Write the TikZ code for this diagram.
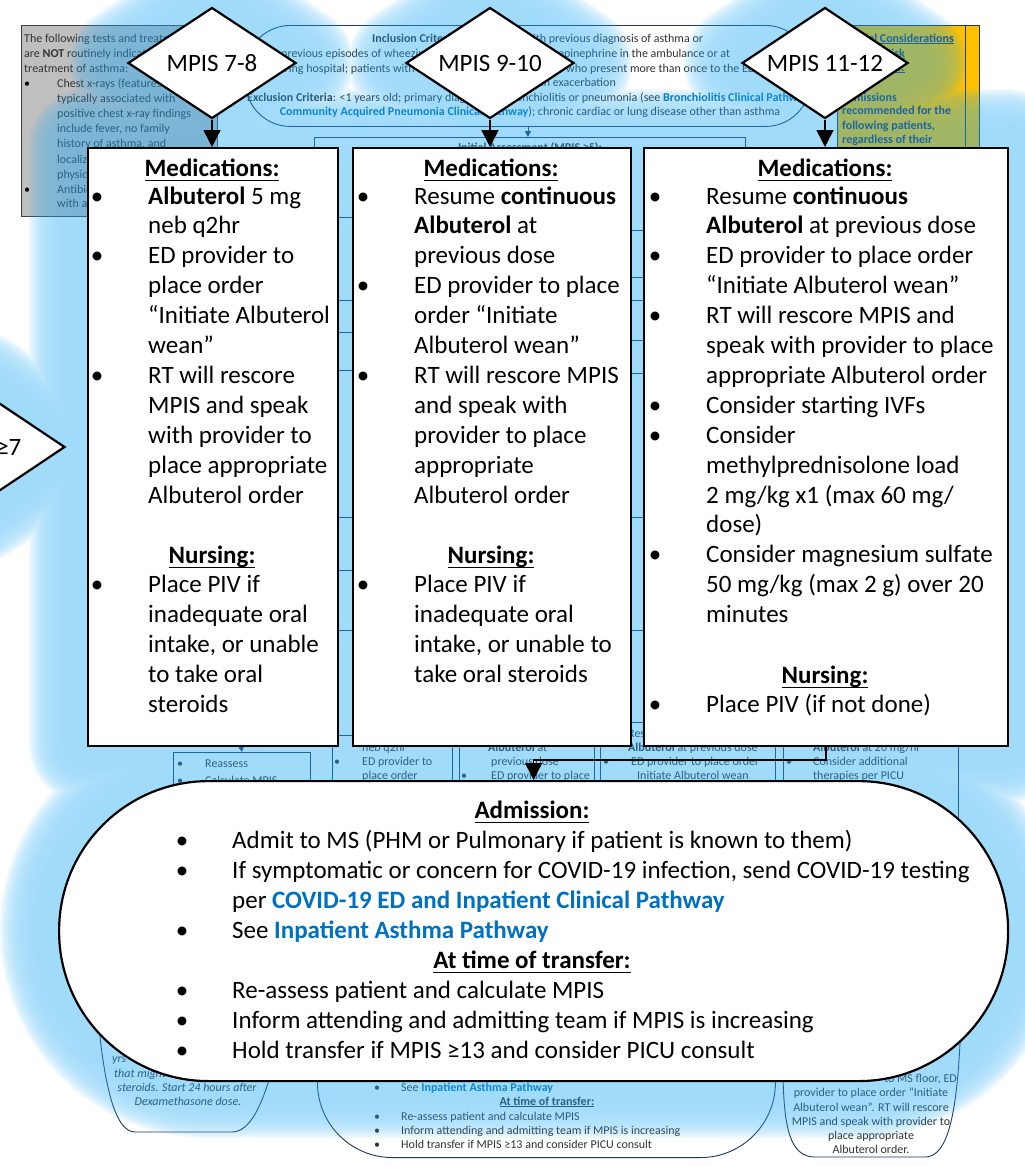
\documentclass[tikz,border=0pt]{standalone}
\usepackage{fontspec}
\setmainfont{Carlito}
\usetikzlibrary{arrows.meta,shapes.geometric}

\definecolor{glowc}{RGB}{29,169,245}
\definecolor{linkc}{RGB}{0,112,192}
\definecolor{bgline}{RGB}{31,56,100}
\definecolor{bgtext}{RGB}{50,50,50}
\definecolor{graybox}{RGB}{191,191,191}
\definecolor{amber}{RGB}{255,192,0}
\definecolor{navy}{RGB}{31,56,100}

\newcommand\bigfont{\fontsize{25}{30}\selectfont}
\newcommand\smfont{\fontsize{12}{14}\selectfont}
\newcommand\lnk[1]{\textcolor{linkc}{\textbf{#1}}}
\newcommand\uline[3]{\setbox0\hbox{#3}\rlap{\rule[-#1]{\wd0}{#2}}\box0}

\tikzset{
  fg/.style={draw=black, line width=2.2pt, fill=white, inner sep=0pt},
  dia/.style={fg, diamond, minimum width=#1},
  bigt/.style={font=\bigfont, inner sep=0pt, anchor=base west},
  bigh/.style={font=\bigfont, inner sep=0pt, anchor=base},
  smt/.style={font=\smfont, inner sep=0pt, anchor=base west, text=bgtext},
  sme/.style={smt, anchor=base east},
  smc/.style={smt, anchor=base},
  bgbox/.style={draw=bgline, line width=0.9pt, fill=white, inner sep=0pt, anchor=north west},
  bgl/.style={draw=bgline, line width=0.9pt},
  bgarrow/.style={draw=bgline, line width=0.9pt, -{Triangle[width=6pt,length=6pt]}},
  conn/.style={draw=black, line width=1.5pt, -{Triangle[width=17pt,length=17pt]}},
  glowpath/.style={insert path={
    (212,7) -- (296,63) -- (212,118) -- (128,63) -- cycle
    (490,7) -- (574,63) -- (490,118) -- (406,63) -- cycle
    (825,7) -- (908,63) -- (825,118) -- (742,63) -- cycle
    (-20,390) -- (65,447) -- (-20,504) -- (-105,447) -- cycle
    (87,147) rectangle (337,745)
    (352,147) rectangle (630,745)
    (643,147) rectangle (1007,745)
    [rounded corners=149.5pt] (58,780) rectangle (1007,1080)}},
}

\begin{document}
\begin{tikzpicture}[x=1pt,y=-1pt]
\useasboundingbox (0,0) rectangle (1025,1167);
\fill[white] (0,0) rectangle (1025,1167);
\clip (0,0) rectangle (1025,1167);

% ---------- underlying pathway page ----------
% tests not indicated
\node[bgbox, draw=black!75, fill=graybox, minimum width=196pt, minimum height=191pt] (nb) at (21,25) {};
\foreach \y/\x/\t [count=\i] in {42/24/{The following tests and treatments},
  57/24/{are \textbf{NOT} routinely indicated in the},
  72/24/{treatment of asthma:},
  87/57/{Chest x-rays (features},
  102/57/{typically associated with},
  117/57/{positive chest x-ray findings},
  132/57/{include fever, no family},
  147/57/{history of asthma, and},
  163/57/{localized findings on},
  178/57/{physical exam)},
  193/57/{Antibiotics (unless},
  207/57/{with a bacterial infection)}}
  \node[smt, text=black!80] (nbt\i) at (\x,\y) {\t};
\node[smc, text=black] (nbd1) at (27,87) {•};
\node[smc, text=black] (nbd2) at (27,193) {•};

% inclusion / exclusion criteria
\node[bgbox, rounded corners=45pt, minimum width=565pt, minimum height=101pt] (incl) at (245,25) {};
\node[smt] (in1) at (372,42) {\textbf{Inclusion Criteria}: ≥1 years old with previous diagnosis of asthma or};
\node[smt] (in2) at (281,57) {previous episodes of wheezing; patients who were given epinephrine in the ambulance or at};
\node[sme] (in3a) at (415,72) {referring hospital; patients with};
\node[smt] (in3b) at (566,72) {who present more than once to the ED};
\node[sme] (in4) at (616,86) {an exacerbation};
\node[smt] (in5) at (247,101) {\textbf{Exclusion Criteria}: <1 years old; primary diagnosis of bronchiolitis or pneumonia (see \lnk{Bronchiolitis Clinical Pathway}};
\node[smc] (in6) at (530,115) {\lnk{Community Acquired Pneumonia Clinical Pathway}); chronic cardiac or lung disease other than asthma};

% special considerations
\node[bgbox, fill=amber, minimum width=142pt, minimum height=130pt] (sc) at (837,25) {};
\draw[bgl] (965,25) -- (965,155);
\foreach \y/\t [count=\i] in {42/{\uline{1.5pt}{0.6pt}{Special Considerations}},
  57/{\uline{1.5pt}{0.6pt}{for High Risk}},
  71/{\uline{1.5pt}{0.6pt}{Populations:}},
  114/{recommended for the},
  129/{following patients,},
  143/{regardless of their}}
  \node[smt, text=navy, font=\smfont\bfseries] (sct\i) at (842,\y) {\t};
\node[sme, text=navy, font=\smfont\bfseries] (sct7) at (897,101) {Admissions};

% initial assessment block
\node[bgbox, minimum width=431pt, minimum height=600pt] (ia) at (314,137) {};
\node[smc, font=\smfont\bfseries] (iat) at (530,151) {Initial Assessment (MPIS ≥5):};
\draw[bgarrow] (incl.south) -- (incl.south |- ia.north);
\foreach \y in {217,300,332,370,517,570,630} \draw[bgl] (320,\y) -- (360,\y);
\foreach \y in {230,277,300,340,373,517,630} \draw[bgl] (620,\y) -- (650,\y);

% lower row of the page
\node[bgbox, minimum width=137pt, minimum height=60pt] (ra) at (173,752) {};
\coordinate (ra0) at (241,745);
\draw[bgarrow] (ra0) -- (ra.north);
\node[smc] (rad1) at (180,767) {•};
\node[smt] (rat1) at (205,767) {Reassess};
\node[smc] (rad2) at (180,784) {•};
\node[smt] (rat2) at (205,784) {Calculate MPIS};

\node[bgbox, minimum width=120pt, minimum height=70pt] (ca) at (332,735) {};
\node[bgbox, minimum width=135pt, minimum height=70pt] (cb) at (459,735) {};
\node[bgbox, minimum width=175pt, minimum height=80pt] (cc) at (600,722) {};
\node[bgbox, minimum width=175pt, minimum height=85pt] (cd) at (783,735) {};
\node[smt] (cat1) at (362,751) {neb q2hr};
\node[smc] (cad1) at (337,765) {•};
\node[smt] (cat2) at (362,765) {ED provider to};
\node[smt] (cat3) at (362,779) {place order};
\node[smt] (cbt1) at (488,751) {\textbf{Albuterol} at};
\node[smt] (cbt2) at (491,765) {previous dose};
\node[smc] (cbd1) at (464,779) {•};
\node[smt] (cbt3) at (491,779) {ED provider to place};
\node[smt] (cct0) at (628,737) {Resume \textbf{continuous}};
\node[smt] (cct1) at (628,751) {\textbf{Albuterol} at previous dose};
\node[smc] (ccd1) at (606,765) {•};
\node[smt] (cct2) at (631,765) {ED provider to place order};
\node[smt] (cct3) at (637,779) {Initiate Albuterol wean};
\node[smt] (cdt1) at (813,751) {\textbf{Albuterol} at 20 mg/hr};
\node[smc] (cdd1) at (789,765) {•};
\node[smt] (cdt2) at (813,765) {Consider additional};
\node[smt] (cdt3) at (813,779) {therapies per PICU};

% bottom notes
\path[bgl, fill=white] (92,950) -- (100,1037) .. controls (106,1090) and (116,1132) .. (135,1132)
  -- (232,1132) .. controls (250,1132) and (262,1105) .. (272,1070) -- (272,950) -- cycle;
\node[smt, font=\smfont\itshape] (bl1) at (112,1062) {yrs};
\node[smt, font=\smfont\itshape] (bl2) at (114,1077) {that might};
\node[smc, font=\smfont\itshape] (bl3) at (187,1091) {steroids. Start 24 hours after};
\node[smc, font=\smfont\itshape] (bl4) at (188,1105) {Dexamethasone dose.};

\node[bgbox, anchor=south west, rounded corners=75pt, minimum width=458pt, minimum height=300pt] (bm) at (317,1158) {};
\node[smc] (bmd1) at (377,1091) {•};
\node[smt] (bmt1) at (401,1091) {See \lnk{Inpatient Asthma Pathway}};
\node[smc, font=\smfont\bfseries] (bmh) at (547,1105) {\uline{1.5pt}{0.6pt}{At time of transfer:}};
\foreach \y/\t [count=\i] in {1120/{Re-assess patient and calculate MPIS},
  1134/{Inform attending and admitting team if MPIS is increasing},
  1148/{Hold transfer if MPIS ≥13 and consider PICU consult}} {
  \node[smc] (bmd\i x) at (377,\y) {•};
  \node[smt] (bmt\i x) at (401,\y) {\t};
}

\path[bgl, fill=white] (783,960) -- (783,1075) .. controls (784,1128) and (790,1157) .. (815,1157)
  -- (925,1157) .. controls (945,1157) and (956,1125) .. (960,1043) -- (960,960) -- cycle;
\node[sme] (br1) at (957,1082) {to MS floor, ED};
\foreach \y/\t [count=\i] in {1096/{provider to place order “Initiate},
  1111/{Albuterol wean”. RT will rescore},
  1125/{MPIS and speak with provider to},
  1139/{place appropriate},
  1153/{Albuterol order.}}
  \node[smc] (br\i x) at (871,\y) {\t};

% ---------- glow behind the highlighted steps ----------
\begin{scope}[transparency group, opacity=0.42]
  \fill[glowc, glowpath];
  \foreach \w in {4,8,...,116}
    \draw[glowc, line width=\w pt, line join=round, opacity=0.17, glowpath];
\end{scope}

% ---------- highlighted steps ----------
\node[dia=170pt, minimum height=114pt] (d0) at (-20,447) {};
\node[dia=168pt, minimum height=111pt] (d1) at (212,63) {};
\node[dia=168pt, minimum height=111pt] (d2) at (490,63) {};
\node[dia=166pt, minimum height=111pt] (d3) at (825,63) {};
\node[font=\bigfont, inner sep=0pt] (d0t) at (d0) {MPIS ≥7};
\node[font=\bigfont, inner sep=0pt] (d1t) at (d1) {MPIS 7-8};
\node[font=\bigfont, inner sep=0pt] (d2t) at (d2) {MPIS 9-10};
\node[font=\bigfont, inner sep=0pt] (d3t) at (d3) {MPIS 11-12};

\node[fg, minimum width=250pt, minimum height=598pt, anchor=north west] (b1) at (87,147) {};
\node[fg, minimum width=278pt, minimum height=598pt, anchor=north west] (b2) at (352,147) {};
\node[fg, minimum width=364pt, minimum height=598pt, anchor=north west] (b3) at (643,147) {};
\node[fg, rounded corners=149.5pt, minimum width=949pt, minimum height=300pt, anchor=north west] (adm) at (58,780) {};

\draw[conn] (d1.south) -- (d1.south |- b1.north);
\draw[conn] (d2.south) -- (d2.south |- b2.north);
\draw[conn] (d3.south) -- (d3.south |- b3.north);
\coordinate (j3) at (826,760);
\draw[conn] (b3.south -| j3) -- (j3) -| (adm.north);

% box 1 : MPIS 7-8
\node[bigh] (b1h1) at (212,176) {\uline{5pt}{1.5pt}{\textbf{Medications:}}};
\node[bigh] (b1h2) at (212,563) {\uline{5pt}{1.5pt}{\textbf{Nursing:}}};
\foreach \k/\t [count=\i] in {1/{\textbf{Albuterol} 5 mg}, 2/{neb q2hr}, 3/{ED provider to},
  4/{place order}, 5/{“Initiate Albuterol}, 6/{wean”}, 7/{RT will rescore},
  8/{MPIS and speak}, 9/{with provider to}, 10/{place appropriate}, 11/{Albuterol order},
  14/{Place PIV if}, 15/{inadequate oral}, 16/{intake, or unable}, 17/{to take oral}, 18/{steroids}}
  \node[bigt] (b1t\i) at (148,{204+29.9*(\k-1)}) {\t};
\foreach \k [count=\i] in {1,3,7,14}
  \node[bigh] (b1d\i) at (97,{204+29.9*(\k-1)}) {•};

% box 2 : MPIS 9-10
\node[bigh] (b2h1) at (491,176) {\uline{5pt}{1.5pt}{\textbf{Medications:}}};
\node[bigh] (b2h2) at (491,563) {\uline{5pt}{1.5pt}{\textbf{Nursing:}}};
\foreach \k/\t [count=\i] in {1/{Resume \textbf{continuous}}, 2/{\textbf{Albuterol} at}, 3/{previous dose},
  4/{ED provider to place}, 5/{order “Initiate}, 6/{Albuterol wean”}, 7/{RT will rescore MPIS},
  8/{and speak with}, 9/{provider to place}, 10/{appropriate}, 11/{Albuterol order},
  14/{Place PIV if}, 15/{inadequate oral}, 16/{intake, or unable to}, 17/{take oral steroids}}
  \node[bigt] (b2t\i) at (414,{204+29.9*(\k-1)}) {\t};
\foreach \k [count=\i] in {1,4,7,14}
  \node[bigh] (b2d\i) at (363,{204+29.9*(\k-1)}) {•};

% box 3 : MPIS 11-12
\node[bigh] (b3h1) at (825,176) {\uline{5pt}{1.5pt}{\textbf{Medications:}}};
\node[bigh] (b3h2) at (825,683) {\uline{5pt}{1.5pt}{\textbf{Nursing:}}};
\foreach \k/\t [count=\i] in {1/{Resume \textbf{continuous}}, 2/{\textbf{Albuterol} at previous dose},
  3/{ED provider to place order}, 4/{“Initiate Albuterol wean”}, 5/{RT will rescore MPIS and},
  6/{speak with provider to place}, 7/{appropriate Albuterol order}, 8/{Consider starting IVFs},
  9/{Consider}, 10/{methylprednisolone load}, 11/{2 mg/kg x1 (max 60 mg/}, 12/{dose)},
  13/{Consider magnesium sulfate}, 14/{50 mg/kg (max 2 g) over 20}, 15/{minutes},
  18/{Place PIV (if not done)}}
  \node[bigt] (b3t\i) at (706,{204+29.9*(\k-1)}) {\t};
\foreach \k [count=\i] in {1,3,5,8,9,13,18}
  \node[bigh] (b3d\i) at (655,{204+29.9*(\k-1)}) {•};

% admission
\node[bigh] (ah1) at (532,818) {\uline{5pt}{1.5pt}{\textbf{Admission:}}};
\node[bigh] (ah2) at (532,968) {\uline{5pt}{1.5pt}{\textbf{At time of transfer:}}};
\foreach \y/\t [count=\i] in {848/{Admit to MS (PHM or Pulmonary if patient is known to them)},
  878/{If symptomatic or concern for COVID-19 infection, send COVID-19 testing},
  908/{per \lnk{COVID-19 ED and Inpatient Clinical Pathway}},
  938/{See \lnk{Inpatient Asthma Pathway}},
  998/{Re-assess patient and calculate MPIS},
  1028/{Inform attending and admitting team if MPIS is increasing},
  1058/{Hold transfer if MPIS ≥13 and consider PICU consult}}
  \node[bigt] (at\i) at (232,\y) {\t};
\foreach \y [count=\i] in {848,878,938,998,1028,1058}
  \node[bigh] (ad\i) at (182,\y) {•};
\end{tikzpicture}
\end{document}
